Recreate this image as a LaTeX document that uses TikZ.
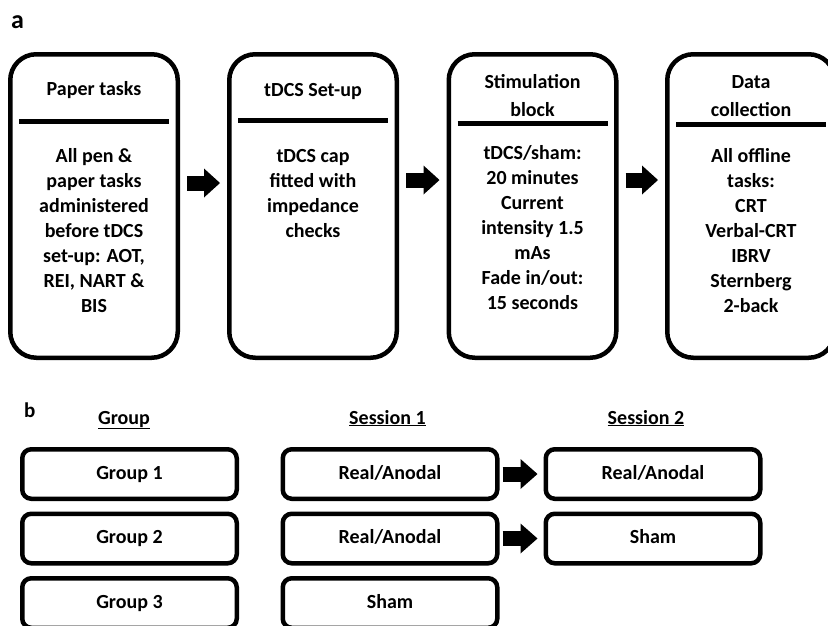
\documentclass[tikz,border=0pt]{standalone}
\usepackage{fontspec}
\setmainfont{Carlito}
\usetikzlibrary{positioning,arrows.meta}

\tikzset{
  stage/.style={draw, line width=4.5pt, rounded corners=26pt, inner sep=0pt,
    minimum width=167.5pt, minimum height=303.5pt},
  cell/.style={draw, line width=4.5pt, rounded corners=9pt, inner sep=0pt,
    minimum width=214.5pt, minimum height=49.5pt, text height=14pt, text depth=4pt,
    font=\bfseries\fontsize{20}{25}\selectfont},
  txt/.style={align=center, anchor=base, inner sep=0pt,
    font=\bfseries\fontsize{20}{25}\selectfont},
  head/.style={txt, font=\bfseries\fontsize{20}{28}\selectfont},
  fat/.style={line width=15pt, shorten <=7pt, shorten >=7pt,
    -{Triangle[length=16pt,width=29pt,line width=0pt]}},
  fatb/.style={fat, shorten <=3pt, shorten >=6pt,
    -{Triangle[length=17pt,width=30pt,line width=0pt]}},
}

\begin{document}
\begin{tikzpicture}[x=1pt, y=-1pt]
    \clip (0,0) rectangle (828,625);

    % panel a
    \node[anchor=base west, inner sep=0pt, font=\bfseries\fontsize{26}{30}\selectfont] (la) at (11,28) {a};
    \foreach \n/\x in {p1/94, p2/313, p3/532.5, p4/751}
       {\node[stage] (\n) at (\x,206) {};}
    \foreach \x/\y in {94/121, 313/120, 532.5/123, 751/124}
       \draw[line width=5pt] (\x-75,\y) -- (\x+75,\y);

    % base = last line
    \node[head] (h1) at (94,95) {Paper tasks};
    \node[head] (h2) at (313,96) {tDCS Set-up};
    \node[head] (h3) at (532.5,116) {Stimulation\\block};
    \node[head] (h4) at (751,116) {Data\\collection};

    \node[txt] (b1) at (94,312) {All pen \&\\paper tasks\\administered\\before tDCS\\set-up: AOT,\\REI, NART \&\\BIS};
    \node[txt] (b2) at (313,237) {tDCS cap\\fitted with\\impedance\\checks};
    \node[txt] (b3) at (532.5,309) {tDCS/sham:\\20 minutes\\Current\\intensity 1.5\\mAs\\Fade in/out:\\15 seconds};
    \node[txt] (b4) at (751,312) {All offline\\tasks:\\CRT\\Verbal-CRT\\IBRV\\Sternberg\\2-back};

    \draw[fat] ([yshift=23pt]p1.east) -- ([yshift=23pt]p2.west);
    \draw[fat] ([yshift=26pt]p2.east) -- ([yshift=26pt]p3.west);
    \draw[fat] ([yshift=26pt]p3.east) -- ([yshift=26pt]p4.west);

    % panel b
    \node[anchor=base west, inner sep=0pt, font=\bfseries\fontsize{21}{25}\selectfont] (lb) at (24,417) {b};
    \node[txt] (cg) at (124,424) {\underline{Group}};
    \node[txt] (cs1) at (387.5,424) {\underline{Session 1}};
    \node[txt] (cs2) at (646,424) {\underline{Session 2}};

    \node[cell] (g1) at (129.5,474) {Group 1};
    \node[cell] (g2) at (129.5,538.5) {Group 2};
    \node[cell] (g3) at (129.5,603) {Group 3};
    \node[cell] (s1) at (390,474) {Real/Anodal};
    \node[cell] (s2) at (390,538.5) {Real/Anodal};
    \node[cell] (s3) at (390,603) {Sham};
    \node[cell] (r1) at (653,474) {Real/Anodal};
    \node[cell] (r2) at (653,538.5) {Sham};

    \draw[fatb] (s1) -- (r1);
    \draw[fatb] (s2) -- (r2);

\end{tikzpicture}
\end{document}
